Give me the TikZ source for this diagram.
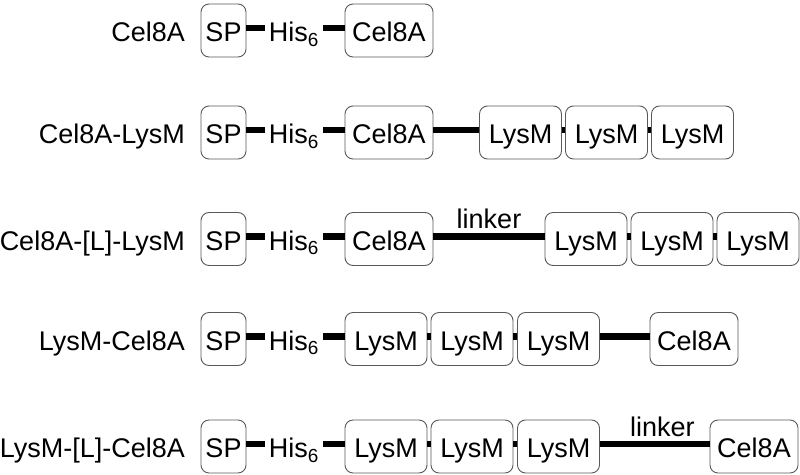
\documentclass[tikz,border=0pt]{standalone}
\usepackage{fontspec}
\setmainfont{Liberation Sans}
\tikzset{
  protbox/.style={draw=black!65, line width=0.9pt, rounded corners=8pt,
    minimum height=53pt, inner sep=0pt, text height=22pt, text depth=0pt},
  spbox/.style={protbox, minimum width=45pt},
  celbox/.style={protbox, minimum width=88pt},
  lysbox/.style={protbox, minimum width=82pt},
  tagtext/.style={inner xsep=4pt, inner ysep=0pt, text height=22pt, text depth=0pt},
  rowname/.style={anchor=east, inner sep=0pt, text height=22pt, text depth=0pt},
  bond/.style={line width=6.5pt},
  linklabel/.style={above=4pt, inner sep=0pt}
}
\begin{document}
\begin{tikzpicture}[x=1pt, y=-1pt, font=\fontsize{27}{32}\selectfont]
  \useasboundingbox (0,0) rectangle (800,474);

  % Cel8A
  \node[rowname] (r1) at (185,30.5) {Cel8A};
  \node[spbox] (sp1) at (223.5,30.5) {SP};
  \node[tagtext] (his1) at (294,30.5) {His\textsubscript{6}};
  \node[celbox] (cel1) at (389,30.5) {Cel8A};
  \draw[bond] ([yshift=2.5pt]sp1.east) -- ([yshift=2.5pt]his1.west);
  \draw[bond] ([yshift=2.5pt]his1.east) -- ([yshift=2.5pt]cel1.west);

  % Cel8A-LysM
  \node[rowname] (r2) at (185,132.5) {Cel8A-LysM};
  \node[spbox] (sp2) at (223.5,132.5) {SP};
  \node[tagtext] (his2) at (294,132.5) {His\textsubscript{6}};
  \node[celbox] (cel2) at (389,132.5) {Cel8A};
  \node[lysbox] (lysa2) at (520.5,132.5) {LysM};
  \node[lysbox] (lysb2) at (606.5,132.5) {LysM};
  \node[lysbox] (lysc2) at (692.5,132.5) {LysM};
  \draw[bond] ([yshift=2.5pt]sp2.east) -- ([yshift=2.5pt]his2.west);
  \draw[bond] ([yshift=2.5pt]his2.east) -- ([yshift=2.5pt]cel2.west);
  \draw[bond] ([yshift=2.5pt]cel2.east) -- ([yshift=2.5pt]lysa2.west);
  \draw[bond] ([yshift=2.5pt]lysa2.east) -- ([yshift=2.5pt]lysb2.west);
  \draw[bond] ([yshift=2.5pt]lysb2.east) -- ([yshift=2.5pt]lysc2.west);

  % Cel8A-[L]-LysM
  \node[rowname] (r3) at (185,239) {Cel8A-[L]-LysM};
  \node[spbox] (sp3) at (223.5,239) {SP};
  \node[tagtext] (his3) at (294,239) {His\textsubscript{6}};
  \node[celbox] (cel3) at (389,239) {Cel8A};
  \node[lysbox] (lysa3) at (586,239) {LysM};
  \node[lysbox] (lysb3) at (672,239) {LysM};
  \node[lysbox] (lysc3) at (758,239) {LysM};
  \draw[bond] ([yshift=2.5pt]sp3.east) -- ([yshift=2.5pt]his3.west);
  \draw[bond] ([yshift=2.5pt]his3.east) -- ([yshift=2.5pt]cel3.west);
  \draw[bond] ([yshift=2.5pt]cel3.east) -- node[linklabel] (lk3) {linker} ([yshift=2.5pt]lysa3.west);
  \draw[bond] ([yshift=2.5pt]lysa3.east) -- ([yshift=2.5pt]lysb3.west);
  \draw[bond] ([yshift=2.5pt]lysb3.east) -- ([yshift=2.5pt]lysc3.west);

  % LysM-Cel8A
  \node[rowname] (r4) at (185,339) {LysM-Cel8A};
  \node[spbox] (sp4) at (223.5,339) {SP};
  \node[tagtext] (his4) at (294,339) {His\textsubscript{6}};
  \node[lysbox] (lysa4) at (386,339) {LysM};
  \node[lysbox] (lysb4) at (472,339) {LysM};
  \node[lysbox] (lysc4) at (558.5,339) {LysM};
  \node[celbox] (cel4) at (694,339) {Cel8A};
  \draw[bond] ([yshift=2.5pt]sp4.east) -- ([yshift=2.5pt]his4.west);
  \draw[bond] ([yshift=2.5pt]his4.east) -- ([yshift=2.5pt]lysa4.west);
  \draw[bond] ([yshift=2.5pt]lysa4.east) -- ([yshift=2.5pt]lysb4.west);
  \draw[bond] ([yshift=2.5pt]lysb4.east) -- ([yshift=2.5pt]lysc4.west);
  \draw[bond] ([yshift=2.5pt]lysc4.east) -- ([yshift=2.5pt]cel4.west);

  % LysM-[L]-Cel8A
  \node[rowname] (r5) at (185,446.5) {LysM-[L]-Cel8A};
  \node[spbox] (sp5) at (223.5,446.5) {SP};
  \node[tagtext] (his5) at (294,446.5) {His\textsubscript{6}};
  \node[lysbox] (lysa5) at (386,446.5) {LysM};
  \node[lysbox] (lysb5) at (472,446.5) {LysM};
  \node[lysbox] (lysc5) at (558.5,446.5) {LysM};
  \node[celbox] (cel5) at (754,446.5) {Cel8A};
  \draw[bond] ([yshift=2.5pt]sp5.east) -- ([yshift=2.5pt]his5.west);
  \draw[bond] ([yshift=2.5pt]his5.east) -- ([yshift=2.5pt]lysa5.west);
  \draw[bond] ([yshift=2.5pt]lysa5.east) -- ([yshift=2.5pt]lysb5.west);
  \draw[bond] ([yshift=2.5pt]lysb5.east) -- ([yshift=2.5pt]lysc5.west);
  \draw[bond] ([yshift=2.5pt]lysc5.east) -- node[linklabel, pos=.57] (lk5) {linker} ([yshift=2.5pt]cel5.west);
\end{tikzpicture}
\end{document}
